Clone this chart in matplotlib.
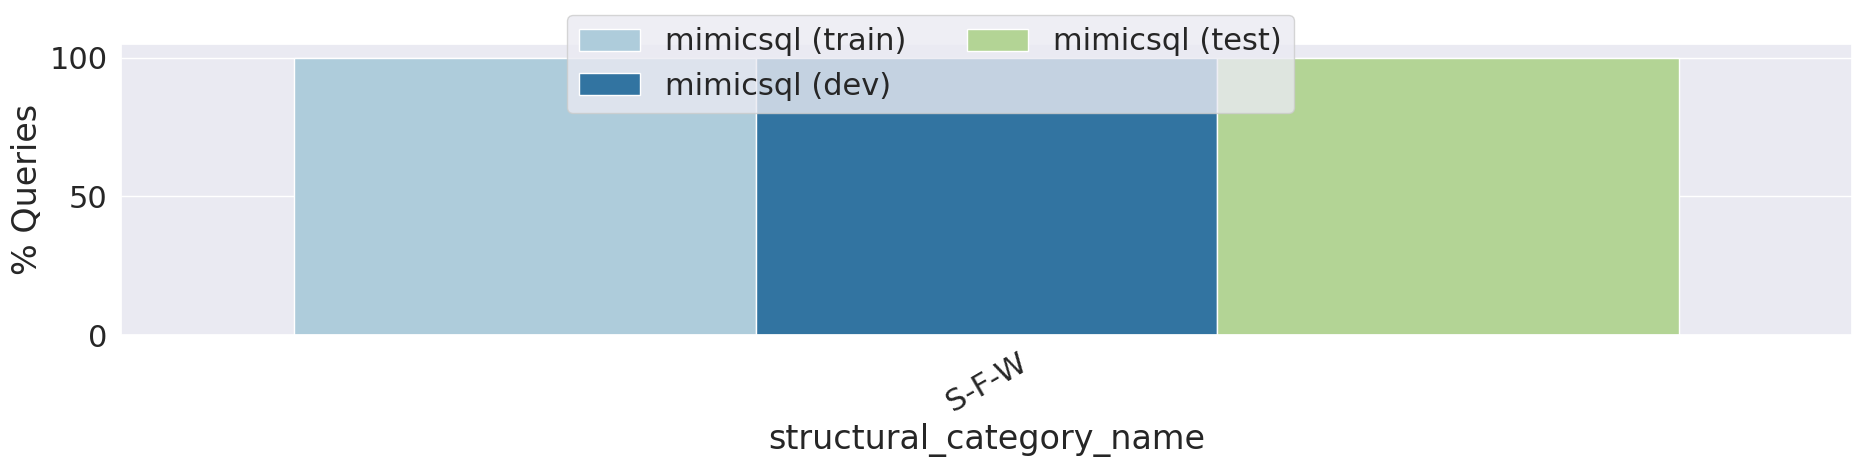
import matplotlib
matplotlib.use("Agg")
import matplotlib.pyplot as plt
import seaborn as sns
import pandas as pd

categories = ["S-F-W"]
splits = ["mimicsql (train)", "mimicsql (dev)", "mimicsql (test)"]
train_vals = [100.0]
dev_vals = [100.0]
test_vals = [100.0]

sns.set_theme(style="darkgrid", font_scale=2)
plt.rcParams['font.family'] = ['DejaVu Sans']

rows = []
for split, vals in zip(splits, [train_vals, dev_vals, test_vals]):
    for c, v in zip(categories, vals):
        rows.append({"structural_category_name": c, "split": split, "pct": v})
df = pd.DataFrame(rows)

fig, ax = plt.subplots(figsize=(18.61, 4.68), dpi=100)
fig.subplots_adjust(left=0.065, right=0.995, top=0.906, bottom=0.284)
sns.barplot(data=df, x="structural_category_name", y="pct", hue="split",
            palette="Paired", ax=ax, edgecolor="white", linewidth=1)
ax.set_xlim(-0.5, 0.5)
ax.set_ylim(0, 105)
ax.set_ylabel("% Queries")
ax.set_xlabel("structural_category_name")
plt.setp(ax.get_xticklabels(), rotation=30)
handles, labels = ax.get_legend_handles_labels()
ax.get_legend().remove()
fig.legend(handles, labels, loc="upper center", ncol=2)
fig.savefig("out.png", dpi=100)
